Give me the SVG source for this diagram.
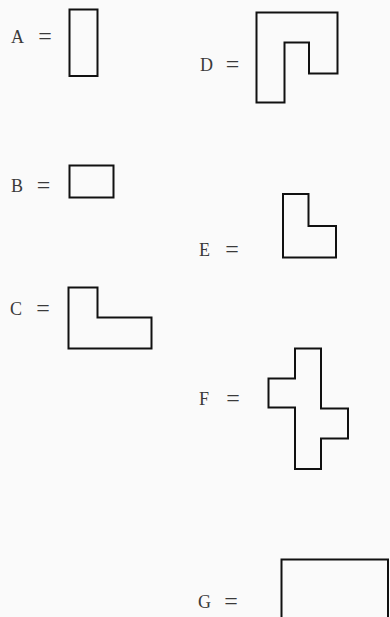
<svg xmlns="http://www.w3.org/2000/svg" width="390" height="617" viewBox="0 0 390 617">
<style>
.lbl{font-family:"Liberation Serif","DejaVu Serif",serif;font-size:18px;fill:#3a3a3a;}
.eq{font-family:"Liberation Serif","DejaVu Serif",serif;font-size:24px;fill:#3a3a3a;text-anchor:middle;}
.shape{fill:none;stroke:#111;stroke-width:2;stroke-linejoin:miter;}
</style>
<rect width="390" height="617" fill="#fafafa"/>
<g id="nodeA">
<text class="lbl" x="11" y="42.5">A</text>
<text class="eq" x="45" y="43.5">=</text>
<rect class="shape" x="69.5" y="9.5" width="28" height="66.5"/>
</g>
<g id="nodeB">
<text class="lbl" x="11" y="192">B</text>
<text class="eq" x="43.5" y="193">=</text>
<rect class="shape" x="69.5" y="165.5" width="44" height="32"/>
</g>
<g id="nodeC">
<text class="lbl" x="10" y="315">C</text>
<text class="eq" x="43" y="316">=</text>
<path class="shape" d="M68.5,287.5 H97.5 V317.5 H151.5 V348.5 H68.5 Z"/>
</g>
<g id="nodeD">
<text class="lbl" x="200" y="71">D</text>
<text class="eq" x="232.5" y="72">=</text>
<path class="shape" d="M256.5,12.5 H337.5 V73.5 H309 V42.5 H284.5 V102.5 H256.5 Z"/>
</g>
<g id="nodeE">
<text class="lbl" x="199" y="256">E</text>
<text class="eq" x="232" y="257">=</text>
<path class="shape" d="M283,194 H308.5 V226 H336 V257.5 H283 Z"/>
</g>
<g id="nodeF">
<text class="lbl" x="199" y="405">F</text>
<text class="eq" x="233" y="406">=</text>
<path class="shape" d="M295,348.5 H321 V408.5 H348 V438.5 H321 V469 H295 V407.5 H268.5 V378.5 H295 Z"/>
</g>
<g id="nodeG">
<text class="lbl" x="198" y="608">G</text>
<text class="eq" x="231" y="609">=</text>
<rect class="shape" x="281.5" y="559.5" width="106.5" height="70"/>
</g>
<g id="connectors"></g>
</svg>
